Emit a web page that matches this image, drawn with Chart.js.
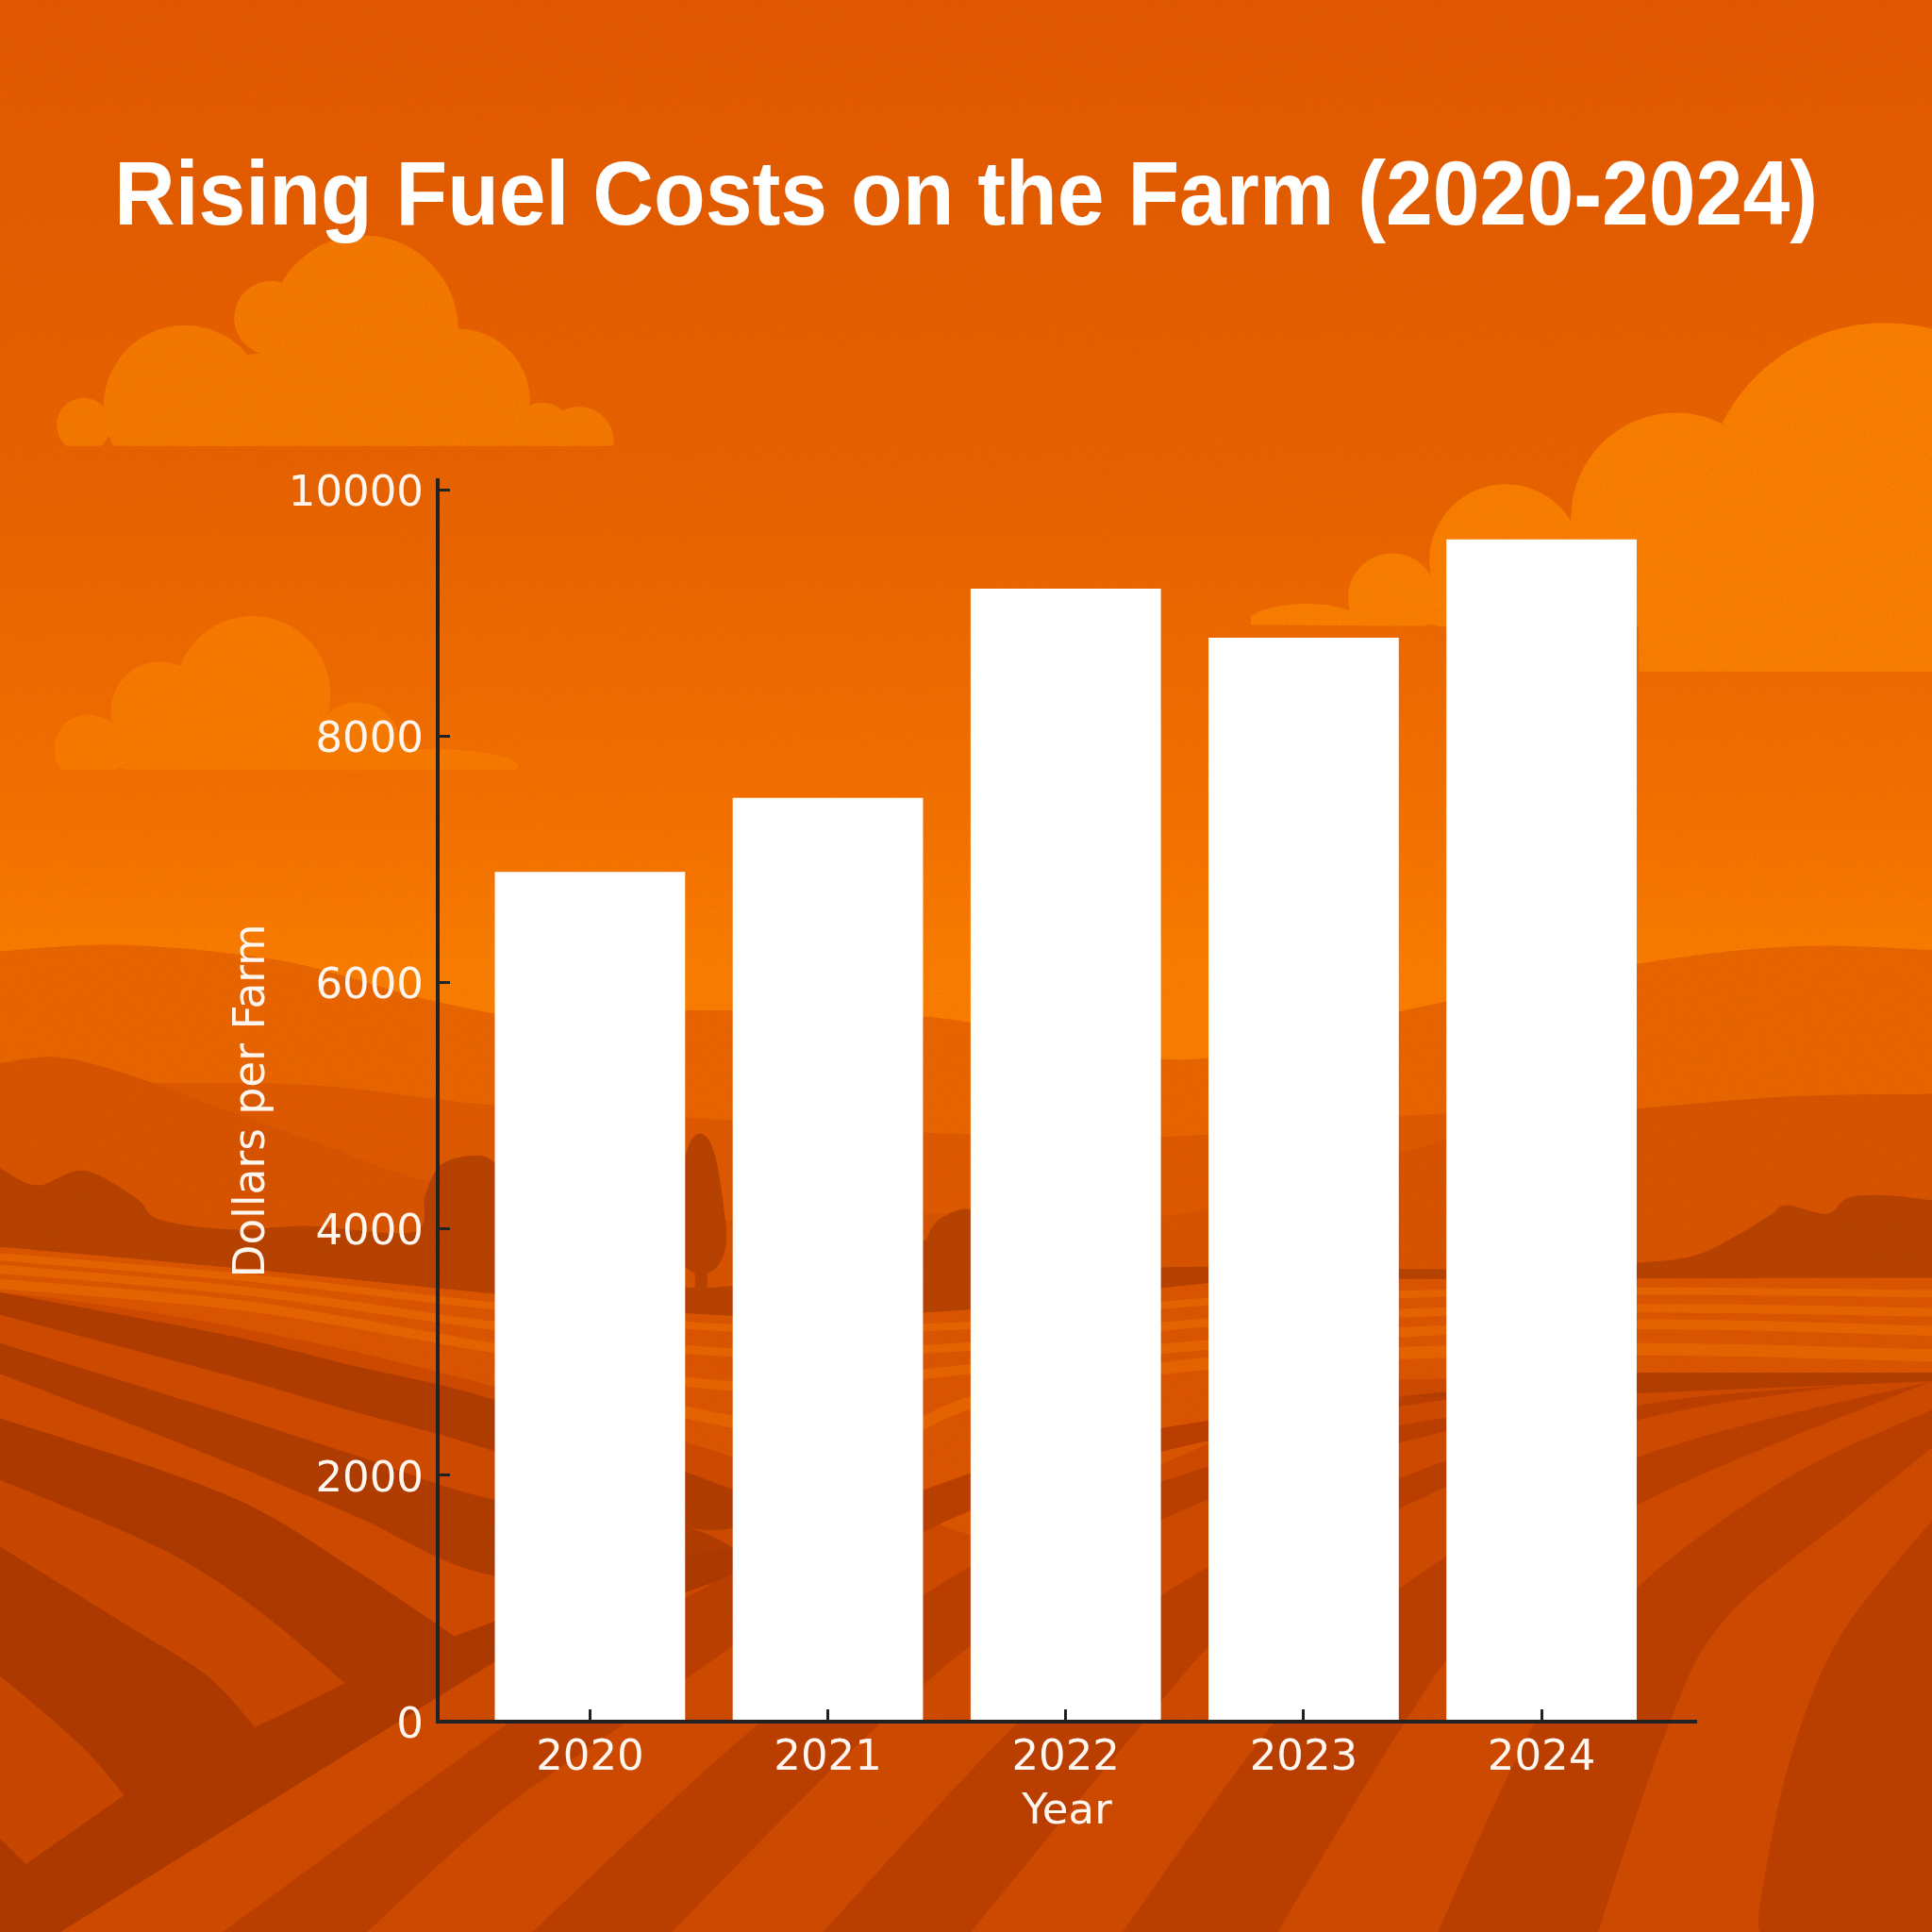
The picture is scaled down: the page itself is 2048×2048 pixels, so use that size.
<!DOCTYPE html>
<html>
<head>
<meta charset="utf-8">
<title>Rising Fuel Costs on the Farm (2020-2024)</title>
<script src="https://cdn.jsdelivr.net/npm/chart.js@4"></script>
<style>
  html, body { margin: 0; padding: 0; background: #e05500; }
  #stage { position: relative; width: 2048px; height: 2048px; overflow: hidden; }
  #scene, #chart { position: absolute; left: 0; top: 0; width: 2048px; height: 2048px; }
</style>
</head>
<body>
<div id="stage">
  <svg id="scene" viewBox="0 0 1568 1568" xmlns="http://www.w3.org/2000/svg"></svg>
  <canvas id="chart" width="2048" height="2048"></canvas>
</div>
<script>
// chart data
const years = ['2020', '2021', '2022', '2023', '2024'];
const dollarsPerFarm = [6900, 7500, 9200, 8800, 9600];
const yTicks = [0, 2000, 4000, 6000, 8000, 10000];

// backdrop shapes, in a 1568 unit square
const hillLayers = [
  ['#ea6400', [[0,772],[100,767],[230,780],[350,812],[440,826],[560,820],[760,826],[960,860],[1140,820],[1330,782],[1460,768],[1568,771]]],
  ['#df5800', [[0,880],[129,879],[259,881],[401,897],[575,908],[770,920],[960,922],[1150,905],[1324,900],[1450,890],[1568,888]]],
  ['#d85200', [[0,863],[47,858],[104,872],[186,902],[259,928],[344,958],[500,990],[760,985],[960,985],[1150,932],[1250,905],[1324,900],[1450,890],[1568,888]]]
];
const treeLine = [[0,948],[30,962],[68,950],[110,972],[130,990],[190,998],[250,995],[335,1000],[345,970],[357,946],[382,938],[402,944],[440,985],[560,1045],[755,1005],[770,985],[800,985],[860,1025],[1000,1028],[1200,1030],[1324,1025],[1375,1019],[1409,1003],[1437,986],[1450,978],[1483,985],[1500,972],[1530,970],[1568,974]];
const groundEdge = [[0,1012],[200,1030],[401,1050],[600,1068],[800,1062],[1000,1040],[1200,1038],[1568,1037]];
const farStreaks = [
  [[0,1020],[200,1037],[401,1060],[600,1078],[800,1075],[1000,1055],[1300,1048],[1568,1050]],
  [[0,1030],[200,1048],[401,1076],[600,1098],[800,1092],[1000,1072],[1300,1062],[1568,1065]],
  [[0,1042],[200,1060],[401,1094],[600,1125],[800,1110],[1000,1090],[1300,1075],[1568,1080]],
  [[401,1115],[600,1155],[700,1175],[800,1135],[1000,1105],[1300,1095],[1568,1100]]
];
const darkBands = [
  [[0,1049],[181,1083],[285,1108],[401,1136],[560,1196],[640,1225],[640,1225],[560,1240],[401,1178],[285,1145],[181,1115],[0,1067]],
  [[0,1090],[155,1138],[285,1180],[401,1217],[560,1240],[640,1290],[640,1290],[560,1284],[401,1279],[285,1229],[155,1175],[0,1115]]
];
const leftFields = [
  [[0,1201],[129,1256],[207,1305],[280,1366],[280,1366],[207,1402],[207,1402],[168,1360],[103,1319],[0,1255]],
  [[0,1360],[65,1416],[101,1457],[101,1457],[21,1513],[21,1513],[0,1492]]
];
const wedgeTop = [[0,1151],[181,1212],[285,1272],[369,1328]];
const fanStripes = [
  [[181,1568],[401,1407],[560,1295],[790,1195],[1000,1150],[1250,1125],[1250,1125],[1000,1165],[790,1225],[620,1320],[508,1398],[401,1474],[298,1568]],
  [[432,1568],[617,1398],[790,1270],[1000,1185],[1300,1130],[1300,1130],[1000,1210],[850,1290],[715,1398],[545,1568]],
  [[668,1568],[826,1398],[950,1290],[1135,1200],[1324,1142],[1503,1124],[1503,1124],[1324,1154],[1135,1225],[1000,1320],[928,1398],[788,1568]],
  [[911,1568],[1034,1398],[1135,1290],[1324,1185],[1567,1121],[1567,1121],[1324,1224],[1200,1320],[1140,1398],[1037,1568]],
  [[1167,1568],[1246,1398],[1324,1293],[1450,1200],[1568,1144],[1568,1144],[1568,1175],[1568,1175],[1500,1230],[1401,1313],[1355,1398],[1297,1568]],
  [[1428,1568],[1429,1543],[1452,1431],[1493,1329],[1568,1234],[1568,1234],[1568,1568],[1568,1568]]
];

// smooth path through a list of points, a doubled point makes a corner
function smooth(points) {
  let d = `M${points[0][0]} ${points[0][1]}`;
  for (let i = 0; i < points.length - 1; i++) {
    const p0 = points[Math.max(i - 1, 0)], p1 = points[i], p2 = points[i + 1], p3 = points[Math.min(i + 2, points.length - 1)];
    if (p1[0] === p2[0] && p1[1] === p2[1]) continue;
    d += ` C${p1[0] + (p2[0] - p0[0]) / 6} ${p1[1] + (p2[1] - p0[1]) / 6} ${p2[0] - (p3[0] - p1[0]) / 6} ${p2[1] - (p3[1] - p1[1]) / 6} ${p2[0]} ${p2[1]}`;
  }
  return d;
}
const toBottom = pts => smooth(pts) + ' L1568 1568 L0 1568 Z';

function buildScene() {
  let s = `<defs>
    <linearGradient id="sky" x1="0" y1="0" x2="0" y2="1">
      <stop offset="0" stop-color="#e35700"/><stop offset="0.26" stop-color="#ea6200"/>
      <stop offset="0.42" stop-color="#f67000"/><stop offset="0.5" stop-color="#fc7d00"/>
    </linearGradient>
    <clipPath id="c1"><rect x="40" y="150" width="470" height="212"/></clipPath>
    <clipPath id="c2"><rect x="40" y="480" width="390" height="145"/></clipPath>
    <clipPath id="c3"><path d="M1015 200H1568V545H1330L1405 510L1015 507Z"/></clipPath>
    <filter id="grain"><feTurbulence type="fractalNoise" baseFrequency="0.9" numOctaves="2" seed="4"/>
      <feColorMatrix values="0 0 0 0 0.3  0 0 0 0 0.1  0 0 0 0 0  0 0 0 0.3 -0.1"/></filter>
  </defs>
  <rect width="1568" height="1568" fill="url(#sky)"/>`;
  const circles = (list, fill, clip) => `<g clip-path="url(#${clip})" fill="${fill}">` +
    list.map(c => `<ellipse cx="${c[0]}" cy="${c[1]}" rx="${c[2]}" ry="${c[3] || c[2]}"/>`).join('') + '</g>';
  s += circles([[295,268,77],[150,330,66],[220,258,30],[372,325,58],[68,345,22],[440,352,25],[470,358,28],[250,330,140,45]], '#f67800', 'c1');
  s += circles([[205,563,63],[130,577,40],[72,608,28],[290,605,35],[350,622,70,14],[200,610,140,20]], '#f97a00', 'c2');
  s += circles([[1530,410,148],[1360,420,85],[1222,455,62],[1130,485,36],[1060,508,50,18],[1450,480,130,70],[1250,490,120,25]], '#fb7e00', 'c3');
  s += `<rect x="1330" y="400" width="238" height="145" fill="#fb7e00"/>`;
  hillLayers.forEach(([fill, pts]) => { s += `<path d="${toBottom(pts)}" fill="${fill}"/>`; });
  // trees and hedges
  s += `<g fill="#b74000"><path d="${toBottom(treeLine)}"/>
    <path d="M568 920C556 920 552 960 548 985C545 1010 552 1030 564 1033V1048H574V1033C586 1030 592 1012 589 992C585 965 582 920 568 920Z"/>
    <ellipse cx="775" cy="1015" rx="24" ry="30"/></g>`;
  // ground
  s += `<path d="${toBottom(groundEdge)}" fill="#dc5400"/>`;
  farStreaks.forEach((pts, i) => {
    const width = [6, 7, 8, 10][i];
    s += `<path d="${smooth(pts)}" fill="none" stroke="#e86300" stroke-width="${width}"/>`;
  });
  s += `<path d="M0 1049 C300 1080 560 1170 800 1250 L1100 1120 L1568 1114 V1568 H0Z" fill="#cf4800"/>`;
  darkBands.forEach(pts => { s += `<path d="${smooth(pts)} Z" fill="#b03a00"/>`; });
  // big dark wedge at bottom left, lighter fields cut out of it
  s += `<path d="${smooth(wedgeTop)} L401 1316 L560 1262 L700 1240 L401 1349 L49 1568 H0Z" fill="#ad3700"/>`;
  leftFields.forEach(pts => { s += `<path d="${smooth(pts)} Z" fill="#c94500"/>`; });
  fanStripes.forEach(pts => { s += `<path d="${smooth(pts)} Z" fill="#bb3d00"/>`; });
  s += `<path d="M1130 1134 L1324 1114 L1568 1114 V1121 L1324 1131Z" fill="#b33c00"/>`;
  s += `<rect width="1568" height="1568" filter="url(#grain)"/>`;
  document.getElementById('scene').innerHTML = s;
}
buildScene();

// title is fitted to its span on the page, y tick digits sit a little under their ticks
const placeText = {
  id: 'placeText',
  afterLayout(chart) {
    chart.titleBlock.left = 121;
    chart.titleBlock.right = 1927;
    chart.scales.y.getLabelItems().forEach(item => { item.textOffset += 5; });
  }
};

new Chart(document.getElementById('chart'), {
  type: 'bar',
  plugins: [placeText],
  data: {
    datasets: [{
      data: years.map((y, i) => ({ x: i, y: dollarsPerFarm[i] })),
      backgroundColor: '#ffffff',
      borderWidth: 0,
      barPercentage: 0.8,
      categoryPercentage: 1
    }]
  },
  options: {
    responsive: false,
    animation: false,
    devicePixelRatio: 1,
    layout: { padding: { left: 0, right: 250, top: 0, bottom: 0 } },
    plugins: {
      legend: { display: false },
      tooltip: { enabled: false },
      title: {
        display: true,
        text: 'Rising Fuel Costs on the Farm (2020-2024)',
        color: '#ffffff',
        font: { family: "'Liberation Sans'", size: 95.5, weight: 'bold', lineHeight: 1 },
        padding: { top: 164, bottom: 249.5 }
      }
    },
    scales: {
      x: {
        type: 'linear',
        min: -0.64,
        max: 4.65,
        offset: false,
        afterFit: scale => { scale.height = 223; },
        afterBuildTicks: scale => { scale.ticks = years.map((y, i) => ({ value: i })); },
        border: { color: '#222222', width: 4, z: 1 },
        grid: { offset: false, drawOnChartArea: false, tickColor: '#222222', tickWidth: 3, tickLength: -13, z: 1 },
        ticks: {
          color: '#fff6ef',
          padding: 25,
          maxRotation: 0,
          autoSkip: false,
          font: { family: 'DejaVu Sans', size: 45 },
          callback: value => years[value]
        },
        title: {
          display: true,
          text: 'Year',
          color: '#fff6ef',
          font: { family: 'DejaVu Sans', size: 45 },
          padding: { top: 0, bottom: 100 }
        }
      },
      y: {
        min: 0,
        max: 10080,
        afterFit: scale => { scale.width = 464; },
        afterBuildTicks: scale => { scale.ticks = yTicks.map(v => ({ value: v })); },
        border: { color: '#222222', width: 4, z: 1 },
        grid: { drawOnChartArea: false, tickColor: '#222222', tickWidth: 3, tickLength: -13, z: 1 },
        ticks: {
          color: '#fff6ef',
          padding: 28,
          autoSkip: false,
          font: { family: 'DejaVu Sans', size: 45 },
          callback: value => String(value)
        },
        title: {
          display: true,
          text: 'Dollars per Farm',
          color: '#fff6ef',
          font: { family: 'DejaVu Sans', size: 45.5 },
          padding: { top: 241, bottom: 0 }
        }
      }
    }
  }
});
</script>
</body>
</html>
